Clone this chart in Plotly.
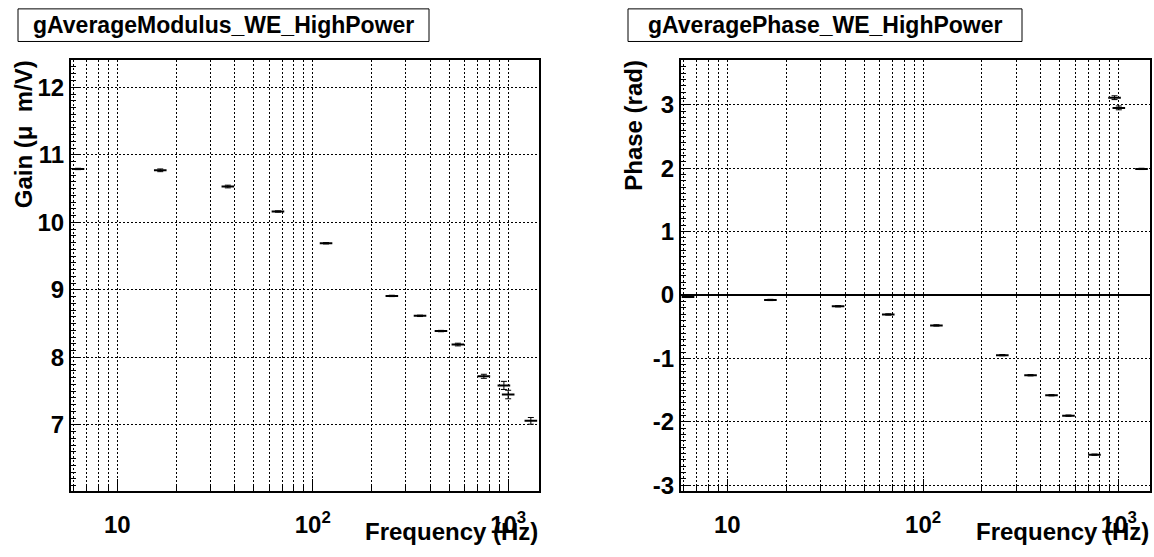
import plotly.graph_objects as go
import math

# ---- data ----
freq = [6.3, 16.6, 36.8, 66.4, 117, 254, 354, 453, 553, 751, 951, 1000, 1306]
gain = [10.79, 10.77, 10.53, 10.16, 9.69, 8.91, 8.615, 8.39, 8.19, 7.72, 7.585, 7.45, 7.06]
gain_err = [0.01, 0.02, 0.02, 0.01, 0.01, 0.01, 0.01, 0.01, 0.02, 0.03, 0.06, 0.063, 0.05]
phase = [-0.03, -0.078, -0.178, -0.307, -0.48, -0.949, -1.266, -1.582, -1.904, -2.52, 3.114, 2.953, 1.99]
phase_err = [0.01, 0.01, 0.01, 0.01, 0.01, 0.01, 0.01, 0.01, 0.01, 0.01, 0.03, 0.03, 0.01]

title_left = "gAverageModulus_WE_HighPower"
title_right = "gAveragePhase_WE_HighPower"
ytitle_left = "Gain (\u03bc&nbsp;&nbsp;m/V)"
ytitle_right = "Phase (rad)"
xtitle = "Frequency (Hz)"

major_x = [10, 100, 1000]
major_x_text = ["10", "10<sup>2</sup>", "10<sup>3</sup>"]
minor_x = [6, 7, 8, 9] + [m * 10 for m in range(2, 10)] + [m * 100 for m in range(2, 10)]
gain_ticks = [6, 7, 8, 9, 10, 11, 12]
phase_ticks = [-3, -2, -1, 0, 1, 2, 3]

W, H = 1154, 557
def px(x):
    return x / W
def py(y):
    return 1 - y / H

FONT = "Liberation Sans"
GRIDDASH = "2px,2px"
fig = go.Figure()

marker = dict(symbol="line-ew", size=9, line=dict(width=2, color="black"), color="black")
fig.add_trace(go.Scatter(x=freq, y=gain, mode="markers", marker=marker,
                         error_y=dict(type="data", array=gain_err, color="black", thickness=1, width=3),
                         xaxis="x", yaxis="y", showlegend=False))
fig.add_trace(go.Scatter(x=freq, y=phase, mode="markers", marker=marker,
                         error_y=dict(type="data", array=phase_err, color="black", thickness=1, width=3),
                         xaxis="x2", yaxis="y2", showlegend=False))

xr = [math.log10(5.8), math.log10(1443)]
tickfont = dict(family=FONT, size=24, color="black")

def bold(s):
    return "<b>" + s + "</b>"

def xaxis_def(domain, anchor):
    return dict(domain=domain, anchor=anchor, type="log", range=xr,
                tickmode="array", tickvals=major_x, ticktext=[bold(t) for t in major_x_text],
                ticks="inside", ticklen=12, tickwidth=1, tickcolor="black",
                showgrid=True, gridcolor="black", griddash=GRIDDASH, gridwidth=1,
                minor=dict(tickvals=minor_x, ticks="inside", ticklen=6, tickcolor="black",
                           showgrid=True, gridcolor="black", griddash=GRIDDASH, gridwidth=1),
                showline=True, linecolor="black", linewidth=2, mirror=True,
                tickfont=tickfont, ticklabelstandoff=11, zeroline=False)

def yaxis_def(domain, anchor, rng, vals, zl):
    return dict(domain=domain, anchor=anchor, range=rng,
                tickmode="array", tickvals=vals, ticktext=[bold(str(v)) for v in vals],
                ticks="inside", ticklen=10, tickwidth=1, tickcolor="black",
                showgrid=True, gridcolor="black", griddash=GRIDDASH, gridwidth=1,
                minor=dict(tickmode="linear", tick0=0, dtick=0.1, ticks="inside", ticklen=5,
                           tickcolor="black", showgrid=False),
                showline=True, linecolor="black", linewidth=2, mirror=True,
                tickfont=tickfont, ticklabelstandoff=0,
                zeroline=zl, zerolinecolor="black", zerolinewidth=2)

ydom = [py(497.7), py(61)]
fig.update_layout(
    width=W, height=H, margin=dict(l=0, r=0, t=0, b=0),
    paper_bgcolor="white", plot_bgcolor="white",
    xaxis=xaxis_def([px(71), px(539.3)], "y"),
    yaxis=yaxis_def(ydom, "x", [6.015, 12.4], gain_ticks, False),
    xaxis2=xaxis_def([px(681), px(1150)], "y2"),
    yaxis2=yaxis_def(ydom, "x2", [-3.10, 3.705], phase_ticks, True),
)

shapes = []
annotations = []
for (x0, x1, txt) in [(18, 429, title_left), (628, 1022, title_right)]:
    shapes.append(dict(type="rect", xref="paper", yref="paper",
                       x0=px(x0), x1=px(x1), y0=py(42), y1=py(9),
                       line=dict(color="black", width=1), fillcolor="white"))
    annotations.append(dict(xref="paper", yref="paper", x=px((x0 + x1) / 2), y=py(25.5),
                            xanchor="center", yanchor="middle", showarrow=False,
                            text=bold(txt),
                            font=dict(family=FONT, size=23, color="black")))

for (xc, txt) in [(23, ytitle_left), (634, ytitle_right)]:
    annotations.append(dict(xref="paper", yref="paper", x=px(xc), y=py(59),
                            xanchor="center", yanchor="top", showarrow=False, textangle=-90,
                            text=bold(txt),
                            font=dict(family=FONT, size=24, color="black")))

for xr_ in [540, 1151]:
    annotations.append(dict(xref="paper", yref="paper", x=px(xr_), y=py(538),
                            xanchor="right", yanchor="middle", showarrow=False,
                            text=bold(xtitle),
                            font=dict(family=FONT, size=24, color="black")))

fig.update_layout(shapes=shapes, annotations=annotations)
fig.write_html("out.html")
